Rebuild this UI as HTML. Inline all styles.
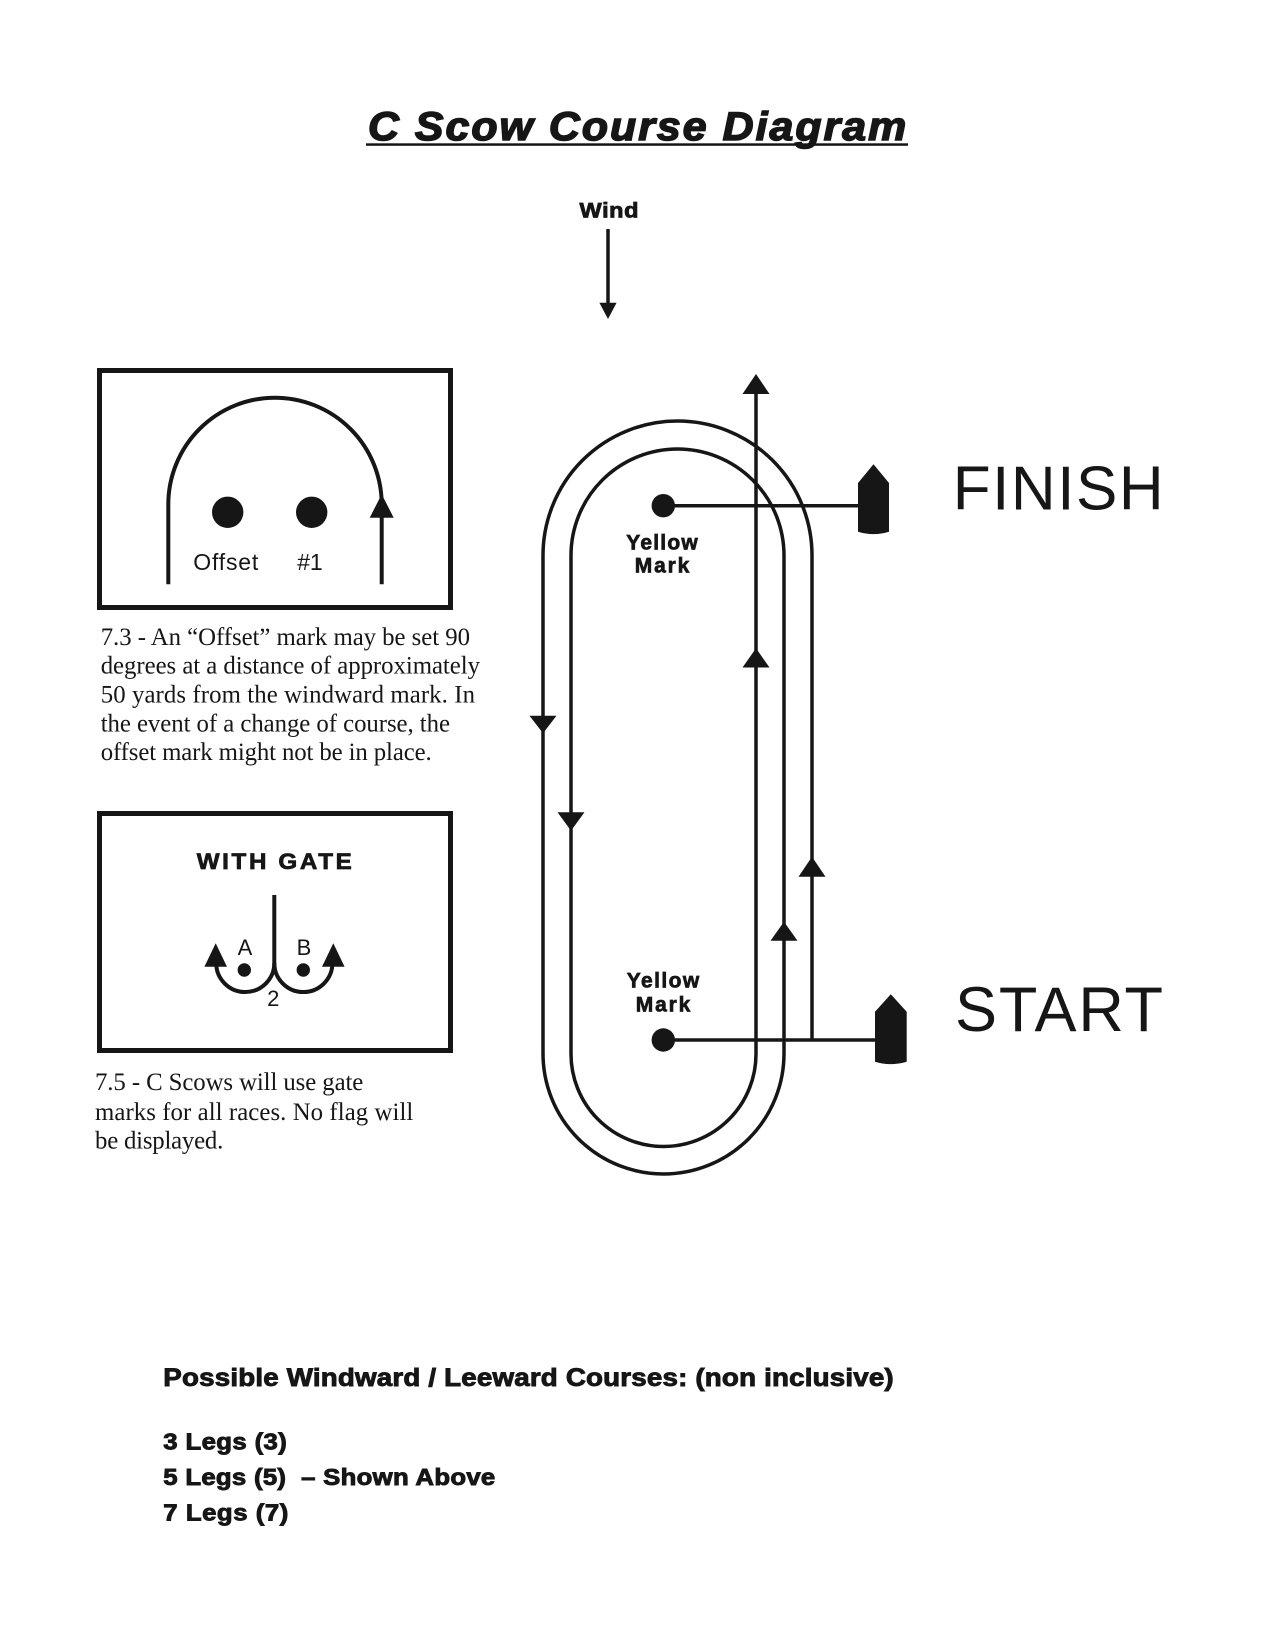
<!DOCTYPE html>
<html>
<head>
<meta charset="utf-8">
<style>
  html, body { margin: 0; padding: 0; background: #ffffff; }
  body { width: 1275px; height: 1650px; overflow: hidden; }
  svg { display: block; }
</style>
</head>
<body>
<svg width="1275" height="1650" viewBox="0 0 1275 1650" xmlns="http://www.w3.org/2000/svg">
  <rect x="0" y="0" width="1275" height="1650" fill="#ffffff"/>

  <!-- Title -->
  <g transform="translate(368,140) scale(1.07,1)">
    <text x="0" y="0" font-family="'Liberation Sans', Arial, sans-serif" font-size="40" font-weight="bold" font-style="italic" fill="#161616" stroke="#161616" stroke-width="1.5" textLength="503" lengthAdjust="spacing">C Scow Course Diagram</text>
  </g>
  <rect x="366" y="143.3" width="542" height="2.5" fill="#161616"/>

  <!-- Wind -->
  <g transform="translate(579.5,217.3) scale(1.12,1)">
    <text x="0" y="0" font-family="'Liberation Sans', Arial, sans-serif" font-size="21" font-weight="bold" fill="#161616" stroke="#161616" stroke-width="0.8" textLength="52.7" lengthAdjust="spacing">Wind</text>
  </g>
  <line x1="608" y1="229" x2="608" y2="305" stroke="#161616" stroke-width="3.5"/>
  <polygon points="608,319 599.4,302.7 616.6,302.7" fill="#161616"/>

  <!-- Box 1 -->
  <rect x="99.5" y="370.5" width="351" height="237" fill="none" stroke="#161616" stroke-width="5"/>
  <path d="M168.3,584.3 L168.3,504.4 A106.7,106.7 0 0 1 381.7,504.4 L381.7,584.3" fill="none" stroke="#161616" stroke-width="4"/>
  <polygon points="381.7,494.3 369.7,517.7 393.7,517.7" fill="#161616"/>
  <circle cx="227.7" cy="512.3" r="15.7" fill="#161616"/>
  <circle cx="311.7" cy="512.3" r="15.7" fill="#161616"/>
  <text x="193.3" y="570" font-family="'Liberation Sans', Arial, sans-serif" font-size="23" fill="#161616" textLength="65" lengthAdjust="spacing">Offset</text>
  <text x="297.3" y="570" font-family="'Liberation Sans', Arial, sans-serif" font-size="23" fill="#161616" textLength="25.4" lengthAdjust="spacing">#1</text>

  <!-- Paragraph 1 -->
  <g font-family="'Liberation Serif', 'Times New Roman', serif" font-size="24.8" fill="#161616">
    <text x="100.7" y="645" textLength="369.3" lengthAdjust="spacing">7.3 - An “Offset” mark may be set 90</text>
    <text x="100.7" y="673.3" textLength="379.3" lengthAdjust="spacing">degrees at a distance of approximately</text>
    <text x="100.7" y="702.7" textLength="374.3" lengthAdjust="spacing">50 yards from the windward mark. In</text>
    <text x="100.7" y="731.7" textLength="349.3" lengthAdjust="spacing">the event of a change of course, the</text>
    <text x="100.7" y="760" textLength="331" lengthAdjust="spacing">offset mark might not be in place.</text>
  </g>

  <!-- Box 2 -->
  <rect x="99.5" y="813.5" width="351" height="237" fill="none" stroke="#161616" stroke-width="5"/>
  <g transform="translate(196.7,869) scale(1.1,1)">
    <text x="0" y="0" font-family="'Liberation Sans', Arial, sans-serif" font-size="22" font-weight="bold" fill="#161616" stroke="#161616" stroke-width="0.7" textLength="141" lengthAdjust="spacing">WITH GATE</text>
  </g>
  <line x1="274.3" y1="895" x2="274.3" y2="966" stroke="#161616" stroke-width="4"/>
  <path d="M216.2,963 A29,29 0 0 0 274.3,963 A29,29 0 0 0 332.4,963" fill="none" stroke="#161616" stroke-width="4"/>
  <polygon points="215.7,943.3 204.4,966.7 227,966.7" fill="#161616"/>
  <polygon points="333.3,943.3 322,966.7 344.6,966.7" fill="#161616"/>
  <circle cx="244.3" cy="970" r="6.7" fill="#161616"/>
  <circle cx="303.3" cy="970" r="6.7" fill="#161616"/>
  <g font-family="'Liberation Sans', Arial, sans-serif" font-size="22" fill="#161616" text-anchor="middle">
    <text x="245" y="955">A</text>
    <text x="304" y="955">B</text>
    <text x="273.3" y="1006">2</text>
  </g>

  <!-- Paragraph 2 -->
  <g font-family="'Liberation Serif', 'Times New Roman', serif" font-size="24.8" fill="#161616">
    <text x="95" y="1090" textLength="268.3" lengthAdjust="spacing">7.5 - C Scows will use gate</text>
    <text x="95" y="1120" textLength="318.3" lengthAdjust="spacing">marks for all races. No flag will</text>
    <text x="95" y="1148.3" textLength="128.3" lengthAdjust="spacing">be displayed.</text>
  </g>

  <!-- Course -->
  <g fill="none" stroke="#161616" stroke-width="3.5">
    <path d="M543,1053.5 L543,555.5 A134.5,134.5 0 0 1 812,555.5 L812,1040"/>
    <path d="M571,1054 L571,555.5 A106.5,106.5 0 0 1 784,555.5 L784,1053.5"/>
    <path d="M543,1053.5 A120.5,120.5 0 0 0 784,1053.5"/>
    <path d="M571,1054 A92.5,92.5 0 0 0 756,1054 L756,390"/>
    <line x1="663" y1="505.7" x2="860" y2="505.7"/>
    <line x1="663" y1="1040" x2="877" y2="1040"/>
  </g>
  <circle cx="663.3" cy="505.7" r="11.7" fill="#161616"/>
  <circle cx="663.3" cy="1040" r="11.7" fill="#161616"/>

  <g fill="#161616">
    <polygon points="756,374 742.5,394 769.5,394"/>
    <polygon points="756,648.3 742.5,667.5 769.5,667.5"/>
    <polygon points="543,733.3 529.5,715.7 556.5,715.7"/>
    <polygon points="571,830.7 557.5,812.3 584.5,812.3"/>
    <polygon points="812,856.7 798.5,876.7 825.5,876.7"/>
    <polygon points="784,921.7 770.5,940.7 797.5,940.7"/>
  </g>

  <!-- Boats -->
  <path d="M858,483 L873.5,464.3 L889,483 L889,531.7 Q873.5,536.5 858,531.7 Z" fill="#161616"/>
  <path d="M875,1011.7 L890.8,994.3 L906.7,1011.7 L906.7,1061.7 Q890.8,1066.5 875,1061.7 Z" fill="#161616"/>

  <!-- Yellow Mark labels -->
  <g font-family="'Liberation Sans', Arial, sans-serif" font-size="21" font-weight="bold" fill="#161616" stroke="#161616" stroke-width="0.7" text-anchor="middle">
    <text x="662" y="549.3" textLength="71.5" lengthAdjust="spacing">Yellow</text>
    <text x="662" y="572.7" textLength="54.5" lengthAdjust="spacing">Mark</text>
    <text x="663" y="987.3" textLength="72.5" lengthAdjust="spacing">Yellow</text>
    <text x="663" y="1011.7" textLength="54.5" lengthAdjust="spacing">Mark</text>
  </g>

  <!-- FINISH / START -->
  <text x="952.7" y="509.3" font-family="'Liberation Sans', Arial, sans-serif" font-size="62" fill="#161616" textLength="211" lengthAdjust="spacing">FINISH</text>
  <text x="955" y="1031" font-family="'Liberation Sans', Arial, sans-serif" font-size="63" fill="#161616" textLength="208" lengthAdjust="spacing">START</text>

  <!-- Bottom text -->
  <g font-family="'Liberation Sans', Arial, sans-serif" font-weight="bold" fill="#161616" stroke="#161616" stroke-width="0.9">
    <g transform="translate(163.3,1386) scale(1.11,1)">
      <text x="0" y="0" font-size="25" textLength="658" lengthAdjust="spacing">Possible Windward / Leeward Courses: (non inclusive)</text>
    </g>
    <g transform="translate(163.3,1449.3) scale(1.12,1)">
      <text x="0" y="0" font-size="23" textLength="110.3" lengthAdjust="spacing">3 Legs (3)</text>
    </g>
    <g transform="translate(163.3,1485) scale(1.12,1)">
      <text x="0" y="0" font-size="23" textLength="296.4" lengthAdjust="spacing" xml:space="preserve">5 Legs (5)  – Shown Above</text>
    </g>
    <g transform="translate(163.3,1520.7) scale(1.12,1)">
      <text x="0" y="0" font-size="23" textLength="111.6" lengthAdjust="spacing">7 Legs (7)</text>
    </g>
  </g>
</svg>
</body>
</html>
